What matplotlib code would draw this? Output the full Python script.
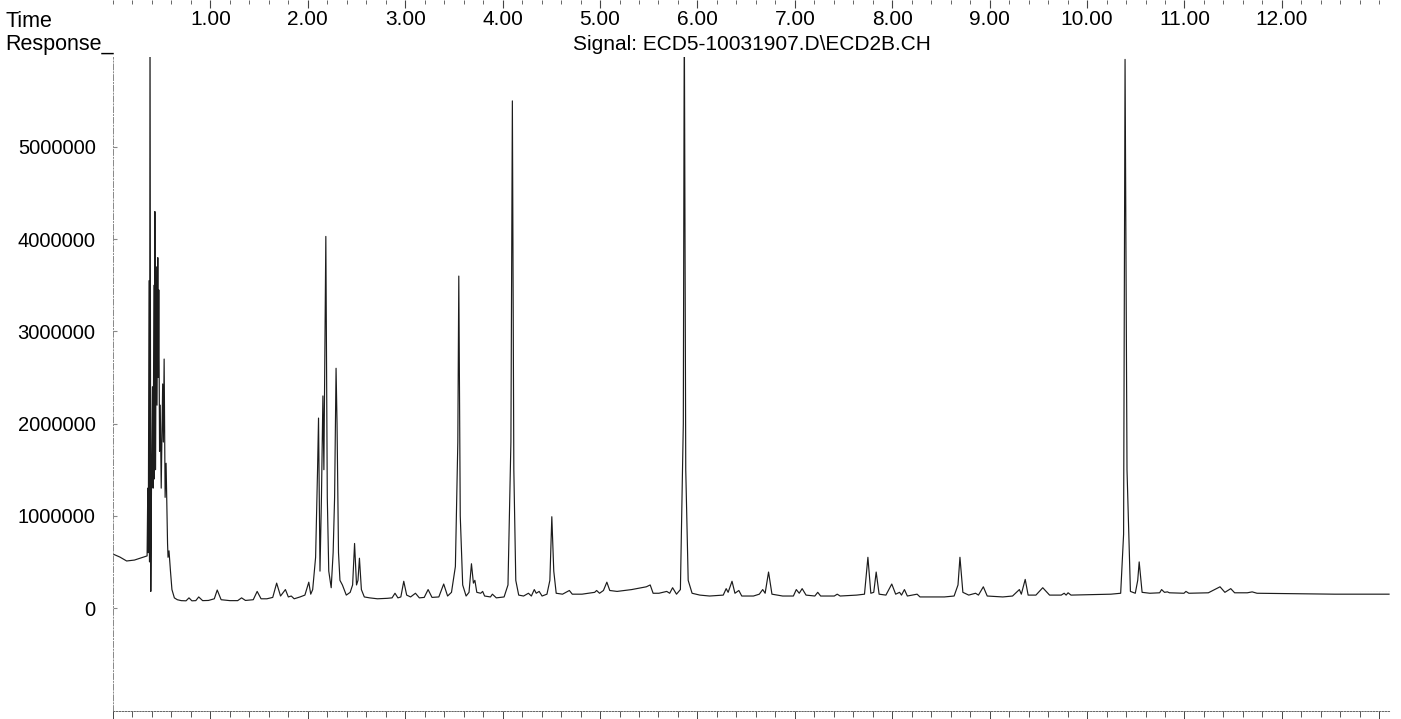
import matplotlib
matplotlib.use("Agg")
import matplotlib.pyplot as plt
from matplotlib.ticker import MultipleLocator

plt.rcParams['font.family'] = ['Liberation Sans', 'DejaVu Sans']

# ---------------- data ----------------
time_min = [
    0.00, 0.07, 0.14, 0.22, 0.350, 0.357, 0.362, 0.370, 0.375, 0.380,
    0.388, 0.395, 0.405, 0.412, 0.420, 0.425, 0.430, 0.437, 0.445, 0.452,
    0.460, 0.465, 0.470, 0.478, 0.485, 0.495, 0.510, 0.517, 0.525, 0.535,
    0.545, 0.560, 0.565, 0.575, 0.590, 0.605, 0.630, 0.660, 0.70, 0.75,
    0.78, 0.81, 0.85, 0.88, 0.92, 0.98, 1.04, 1.07, 1.11, 1.20,
    1.28, 1.32, 1.36, 1.44, 1.48, 1.52, 1.58, 1.64, 1.68, 1.72,
    1.77, 1.80, 1.83, 1.86, 1.92, 1.97, 2.01, 2.03, 2.05, 2.08,
    2.10, 2.11, 2.125, 2.14, 2.155, 2.165, 2.185, 2.20, 2.215, 2.24,
    2.26, 2.275, 2.29, 2.30, 2.315, 2.33, 2.355, 2.395, 2.435, 2.46,
    2.48, 2.50, 2.515, 2.53, 2.55, 2.58, 2.635, 2.715, 2.815, 2.865,
    2.895, 2.925, 2.955, 2.985, 3.015, 3.055, 3.105, 3.145, 3.195, 3.235,
    3.275, 3.345, 3.395, 3.435, 3.475, 3.515, 3.54, 3.55, 3.565, 3.59,
    3.625, 3.655, 3.68, 3.70, 3.715, 3.735, 3.775, 3.795, 3.815, 3.875,
    3.895, 3.935, 4.015, 4.055, 4.085, 4.10, 4.115, 4.135, 4.165, 4.215,
    4.265, 4.295, 4.325, 4.345, 4.375, 4.405, 4.455, 4.485, 4.505, 4.525,
    4.55, 4.615, 4.685, 4.715, 4.815, 4.945, 4.965, 4.995, 5.035, 5.07,
    5.10, 5.175, 5.325, 5.475, 5.515, 5.545, 5.605, 5.685, 5.715, 5.745,
    5.785, 5.825, 5.855, 5.865, 5.88, 5.905, 5.945, 6.025, 6.125, 6.265,
    6.295, 6.315, 6.355, 6.385, 6.425, 6.455, 6.575, 6.635, 6.67, 6.695,
    6.73, 6.765, 6.875, 6.985, 7.015, 7.045, 7.075, 7.115, 7.205, 7.235,
    7.265, 7.405, 7.435, 7.465, 7.635, 7.715, 7.75, 7.78, 7.81, 7.835,
    7.865, 7.935, 7.995, 8.035, 8.075, 8.095, 8.125, 8.155, 8.255, 8.285,
    8.535, 8.635, 8.675, 8.695, 8.725, 8.785, 8.855, 8.885, 8.935, 8.975,
    9.135, 9.235, 9.305, 9.325, 9.365, 9.395, 9.475, 9.545, 9.615, 9.735,
    9.765, 9.785, 9.805, 9.835, 10.045, 10.245, 10.345, 10.375, 10.39, 10.41,
    10.445, 10.495, 10.52, 10.535, 10.565, 10.645, 10.745, 10.765, 10.795, 10.825,
    10.845, 10.995, 11.015, 11.045, 11.245, 11.365, 11.415, 11.475, 11.515, 11.645,
    11.695, 11.745, 12.545, 13.10,
]
response = [
    585000, 553000, 510000, 520000, 565000, 1300000, 600000, 3550000, 500000, 6500000,
    180000, 1300000, 2400000, 1300000, 3500000, 1400000, 4300000, 1500000, 3700000, 2200000,
    3800000, 2500000, 3450000, 1700000, 2200000, 1300000, 2430000, 1800000, 2700000, 1200000,
    1570000, 700000, 550000, 620000, 400000, 200000, 110000, 90000, 80000, 78000,
    110000, 78000, 80000, 120000, 80000, 82000, 100000, 195000, 90000, 80000,
    80000, 110000, 82000, 90000, 180000, 100000, 100000, 115000, 270000, 130000,
    200000, 120000, 130000, 100000, 120000, 140000, 280000, 150000, 200000, 550000,
    1500000, 2060000, 400000, 1200000, 2300000, 1500000, 4030000, 1200000, 400000, 220000,
    600000, 1200000, 2600000, 2000000, 600000, 300000, 250000, 140000, 170000, 250000,
    700000, 250000, 300000, 540000, 200000, 120000, 110000, 100000, 105000, 110000,
    160000, 110000, 120000, 290000, 140000, 120000, 160000, 110000, 115000, 200000,
    115000, 120000, 260000, 130000, 170000, 450000, 1800000, 3600000, 1000000, 250000,
    130000, 170000, 480000, 270000, 300000, 170000, 160000, 180000, 130000, 120000,
    150000, 110000, 120000, 250000, 1800000, 5500000, 1500000, 300000, 140000, 130000,
    160000, 130000, 200000, 160000, 180000, 130000, 150000, 300000, 990000, 400000,
    160000, 150000, 190000, 150000, 150000, 170000, 190000, 160000, 190000, 280000,
    190000, 180000, 200000, 230000, 250000, 160000, 160000, 180000, 160000, 220000,
    150000, 200000, 2000000, 6500000, 1500000, 300000, 160000, 140000, 130000, 140000,
    210000, 170000, 290000, 160000, 190000, 130000, 130000, 150000, 200000, 160000,
    390000, 150000, 130000, 130000, 200000, 160000, 210000, 140000, 130000, 170000,
    130000, 130000, 150000, 130000, 140000, 150000, 550000, 160000, 170000, 390000,
    150000, 140000, 260000, 150000, 170000, 140000, 200000, 130000, 150000, 120000,
    120000, 130000, 250000, 550000, 170000, 140000, 160000, 140000, 230000, 130000,
    120000, 130000, 200000, 150000, 310000, 140000, 140000, 220000, 140000, 140000,
    160000, 140000, 165000, 140000, 145000, 150000, 160000, 800000, 5950000, 1500000,
    180000, 160000, 300000, 500000, 170000, 160000, 165000, 200000, 170000, 175000,
    165000, 160000, 180000, 160000, 165000, 230000, 170000, 210000, 165000, 165000,
    175000, 160000, 150000, 150000,
]

y_ticks = [0, 1000000, 2000000, 3000000, 4000000, 5000000]
y_tick_labels = ["0", "1000000", "2000000", "3000000", "4000000", "5000000"]
time_ticks = [1, 2, 3, 4, 5, 6, 7, 8, 9, 10, 11, 12]
time_tick_labels = ["1.00", "2.00", "3.00", "4.00", "5.00", "6.00",
                    "7.00", "8.00", "9.00", "10.00", "11.00", "12.00"]
header_time = "Time"
header_response = "Response_"
signal_title = r"Signal: ECD5-10031907.D\ECD2B.CH"

# ---------------- layout ----------------
W, H = 1401, 719
fig = plt.figure(figsize=(W / 100, H / 100), dpi=100)
fig.patch.set_facecolor("white")
L, R, B, T = 113, 1390, 711, 57
X_MAX = 13.11
ax = fig.add_axes([L / W, 1 - B / H, (R - L) / W, (B - T) / H])
ax.plot(time_min, response, color="#1c1c1c", lw=0.85)
ax.set_xlim(0, X_MAX)
ax.set_ylim(-1117000, 5976000)

for s in ("top", "right"):
    ax.spines[s].set_visible(False)
ax.spines["left"].set_linestyle((0, (6, 2, 1, 2)))
ax.spines["left"].set_color("#888888")
ax.spines["left"].set_linewidth(0.7)
ax.spines["bottom"].set_linestyle((0, (1.5, 1.5)))
ax.spines["bottom"].set_color("#666666")
ax.spines["bottom"].set_linewidth(0.7)

ax.set_yticks(y_ticks, y_tick_labels, fontsize=14.5)
ax.tick_params(axis="y", length=3, direction="in", pad=12.5, color="#888888")
ax.xaxis.set_major_locator(MultipleLocator(1))
ax.xaxis.set_minor_locator(MultipleLocator(0.2))
ax.tick_params(axis="x", which="major", length=6, width=0.7, direction="out",
               color="#444444", labelbottom=False)
ax.tick_params(axis="x", which="minor", length=4, width=0.7, direction="out",
               color="#555555")

# time axis across the top of the page
axt = fig.add_axes([L / W, 1.0, (R - L) / W, 0.0005])
axt.set_xlim(0, X_MAX)
axt.set_yticks([])
for s in axt.spines.values():
    s.set_visible(False)
axt.set_xticks(time_ticks, time_tick_labels, fontsize=15)
axt.xaxis.set_minor_locator(MultipleLocator(0.2))
axt.tick_params(axis="x", which="major", length=6, width=0.8, direction="out",
                color="#444444", pad=1.5)
axt.tick_params(axis="x", which="minor", length=3, width=0.7, direction="out",
                color="#666666")

fig.text(5 / W, 1 - 27 / H, header_time, fontsize=15.5, va="baseline", ha="left")
fig.text(5 / W, 1 - 50 / H, header_response, fontsize=15.5, va="baseline", ha="left")
fig.text(752 / W, 1 - 50 / H, signal_title, fontsize=15, va="baseline", ha="center")

fig.savefig("out.png", dpi=100, facecolor="white")
